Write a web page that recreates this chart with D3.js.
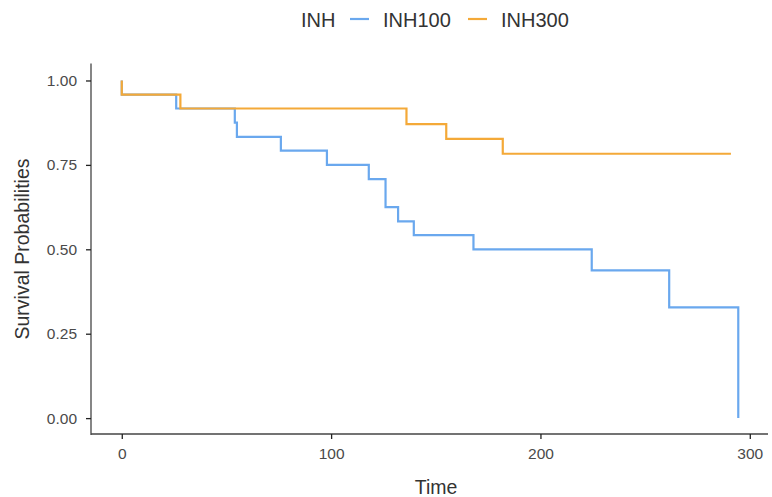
<!DOCTYPE html>
<html>
<head>
<meta charset="utf-8">
<script src="https://cdn.jsdelivr.net/npm/d3@7"></script>
<style>
  body { margin: 0; background: #fff; }
  svg { display: block; font-family: "Liberation Sans", Arial, sans-serif; }
</style>
</head>
<body>
<svg id="chart" width="772" height="497"></svg>
<script>
// survival steps
const groups = ["INH100", "INH300"];
const colors = ["#6aa8ee", "#f4a938"];
const inh100Times = [0, 26, 54, 55, 76, 98, 118, 126, 132, 139.5, 168, 224.5, 261.5, 294.5];
const inh100Surv = [0.958, 0.917, 0.875, 0.833, 0.792, 0.75, 0.708, 0.625, 0.583, 0.542, 0.5, 0.4375, 0.328, 0];
const inh300Times = [0, 28, 136, 155, 182];
const inh300Surv = [0.958, 0.917, 0.871, 0.827, 0.783];
const inh300End = 291;
const xTicks = [0, 100, 200, 300];
const yTicks = [0, 0.25, 0.5, 0.75, 1];

function buildSteps(times, surv, end) {
    const pts = [[0, 1]];
    times.forEach((t, i) => pts.push([t, surv[i]]));
    if (end !== undefined) pts.push([end, surv[surv.length - 1]]);
    return pts;
}

const series = [
    buildSteps(inh100Times, inh100Surv),
    buildSteps(inh300Times, inh300Surv, inh300End)
];

const svg = d3.select("#chart");
const plotLeft = 91, plotRight = 768, plotTop = 63.6, plotBottom = 435;

const x = d3.scaleLinear().domain([-14.7, 308.7]).range([plotLeft, plotRight]);
const y = d3.scaleLinear().domain([-0.05, 1.05]).range([plotBottom, plotTop]);

// axes
const xAxis = svg.append("g")
    .attr("transform", `translate(0,${plotBottom - 1})`)
    .call(d3.axisBottom(x).tickValues(xTicks).tickSize(5).tickPadding(9).tickSizeOuter(0));
const yAxis = svg.append("g")
    .attr("transform", `translate(${plotLeft},0)`)
    .call(d3.axisLeft(y).tickValues(yTicks).tickFormat(d3.format(".2f")).tickSize(5).tickPadding(9).tickSizeOuter(0));

[xAxis, yAxis].forEach(a => {
    a.select(".domain").attr("stroke", "#444").attr("stroke-width", 1.3);
    a.selectAll(".tick line").attr("stroke", "#222").attr("stroke-width", 1.3);
    a.selectAll(".tick text").attr("fill", "#4a4a4a").style("font-size", "15.5px")
        .style("font-family", "Liberation Sans, Arial, sans-serif");
});
xAxis.select(".domain").attr("d", `M${plotLeft},0H${plotRight}`);
yAxis.select(".domain").attr("d", `M0,${plotTop}V${plotBottom}`);

// curves
const line = d3.line()
    .x(d => x(d[0]))
    .y(d => y(d[1]))
    .curve(d3.curveStepAfter);

series.forEach((pts, i) => {
    svg.append("path")
        .datum(pts)
        .attr("fill", "none")
        .attr("stroke", colors[i])
        .attr("stroke-width", 2.2)
        .attr("d", line);
});

// axis titles
svg.append("text")
    .attr("x", 436)
    .attr("y", 494)
    .attr("text-anchor", "middle")
    .style("font-size", "19.5px")
    .style("fill", "#333")
    .text("Time");

svg.append("text")
    .attr("transform", "translate(29,249) rotate(-90)")
    .attr("text-anchor", "middle")
    .style("font-size", "19.5px")
    .style("fill", "#333")
    .text("Survival Probabilities");

// legend
const legend = svg.append("g");
legend.append("text")
    .attr("x", 301)
    .attr("y", 27)
    .style("font-size", "20px")
    .style("fill", "#333")
    .text("INH");

const legendX = [350, 468];
groups.forEach((g, i) => {
    legend.append("line")
        .attr("x1", legendX[i]).attr("x2", legendX[i] + 19)
        .attr("y1", 19).attr("y2", 19)
        .attr("stroke", colors[i])
        .attr("stroke-width", 2.2);
    legend.append("text")
        .attr("x", legendX[i] + 33)
        .attr("y", 27)
        .style("font-size", "20px")
        .style("fill", "#333")
        .text(g);
});
</script>
</body>
</html>
